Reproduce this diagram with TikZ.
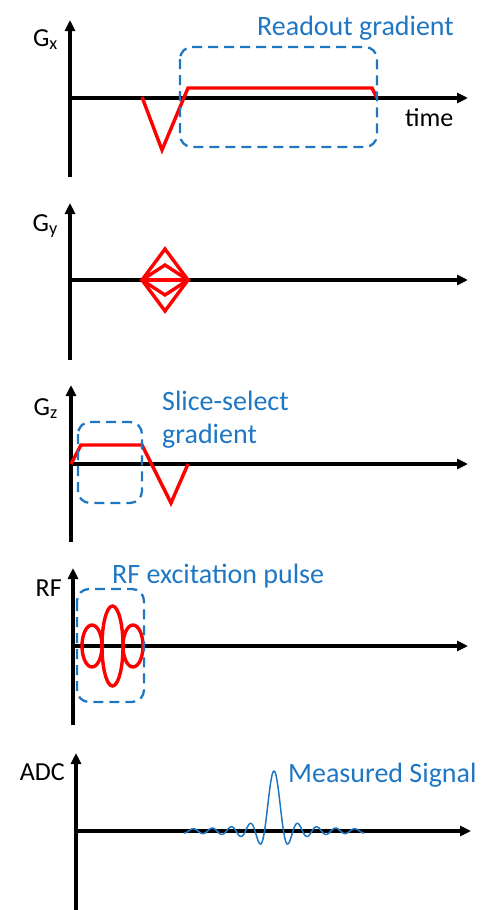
\documentclass[tikz,border=0pt]{standalone}
\usepackage{fontspec}
\setmainfont{Carlito}
\usetikzlibrary{arrows.meta}
\definecolor{noteblue}{RGB}{31,119,196}
\begin{document}
\begin{tikzpicture}[x=1pt, y=-1pt,
        axis/.style={line width=3.8pt, -{Triangle[length=11pt,width=10pt]}},
        pulse/.style={red, line width=3.4pt, line join=miter},
        box/.style={noteblue, line width=2.3pt, dash pattern=on 10pt off 6pt, rounded corners=12pt},
        lbl/.style={inner sep=0pt, font=\fontsize{26}{30}\selectfont},
        note/.style={inner sep=0pt, text=noteblue, align=left, font=\fontsize{28}{33}\selectfont}]
    \useasboundingbox (0,0) rectangle (495,910);

    % Gx
    \draw[axis] (70,177) -- (70,20);
    \draw[axis] (70,98) -- (468,98);
    \draw[pulse] (142,97) -- (162,150) -- (188,88) -- (372,88) -- (377,98);
    \draw[box] (180,47) rectangle (377,147);
    \node[lbl, anchor=base east] (gx) at (58,46) {G\textsubscript{x}};
    \node[lbl, anchor=base west] (time) at (405,126) {time};
    \node[note, anchor=base west] (readout) at (257,35) {Readout gradient};

    % Gy
    \draw[axis] (70,360) -- (70,203);
    \draw[axis] (70,280) -- (468,280);
    \draw[pulse] (142,280) -- (165,249) -- (188,280) -- (165,311) -- cycle;
    \draw[pulse] (142,280) -- (165,265) -- (188,280) -- (165,295) -- cycle;
    \draw[pulse] (142,280) -- (188,280);
    \node[lbl, anchor=base east] (gy) at (58,231) {G\textsubscript{y}};

    % Gz
    \draw[axis] (71,542) -- (71,385);
    \draw[axis] (71,464) -- (468,464);
    \draw[pulse] (71,464) -- (81,445) -- (142,445) -- (171,503) -- (188,464);
    \draw[box] (78,422) rectangle (142,503);
    \node[lbl, anchor=base east] (gz) at (58,415) {G\textsubscript{z}};
    \node[note, anchor=base west] (slice) at (162,410) {Slice-select};
    \node[note, anchor=base west] (slicegrad) at (162,443) {gradient};

    % RF
    \draw[axis] (73,725) -- (73,568);
    \draw[axis] (73,646) -- (468,646);
    \draw[pulse] (92,646) ellipse [x radius=10, y radius=21];
    \draw[pulse] (112.5,646) ellipse [x radius=10.5, y radius=40];
    \draw[pulse] (133,646) ellipse [x radius=10, y radius=21];
    \draw[box] (77,589) rectangle (144,702);
    \node[lbl, anchor=base east] (rf) at (62,596) {RF};
    \node[note, anchor=base west] (excite) at (112,583) {RF excitation pulse};

    % ADC
    \draw[axis] (76,910) -- (76,753);
    \draw[axis] (76,831) -- (471,831);
    \draw[noteblue, line width=1.5pt] plot[smooth, domain=-90.25:90.25, samples=362]
        ({274+\x}, {831-60*sin(180*\x/9.5)/(pi*\x/9.5)});
    \node[lbl, anchor=base east] (adc) at (65,780) {ADC};
    \node[note, anchor=base west] (signal) at (288,782) {Measured Signal};
\end{tikzpicture}
\end{document}
